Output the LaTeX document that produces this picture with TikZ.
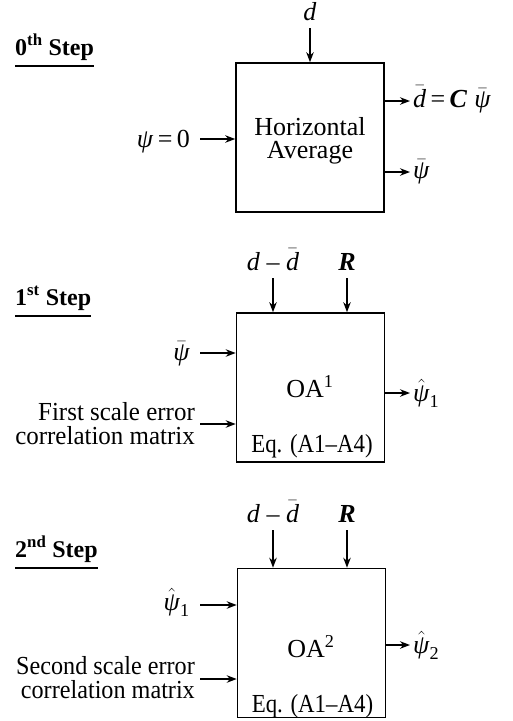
\documentclass[tikz,border=0pt]{standalone}
\usepackage{amsmath}
\usepackage{graphicx}
\usepackage{fontspec}
\setmainfont{Liberation Serif}[BoldFont={Liberation Serif Bold}, ItalicFont={Liberation Serif Italic}, BoldItalicFont={Liberation Serif Bold Italic}]
\usetikzlibrary{arrows.meta}
\newcommand\myd{\textit{d}}
\newcommand\mydbar{$\bar{\hbox{\textit{d}}}$}
\newcommand\mypsi{\textit{ψ}}
\newcommand\mypsibar{$\bar{\hbox{\textit{ψ}}}$}
\newcommand\mypsihat[1]{$\hat{\hbox{\textit{ψ}}}_{\text{#1}}$}
\newcommand\mybf[1]{\textbf{\textit{#1}}}
\newcommand\mynarrow[2]{\scalebox{#1}[1]{#2}}
\begin{document}
\begin{tikzpicture}[x=1pt,y=-1pt,
  every node/.style={inner sep=0pt},
  lbl/.style={font=\fontsize{26}{20.5}\selectfont},
  arr/.style={-{Stealth[length=10pt,width=7.5pt]}, line width=1.4pt},
  blk/.style={draw, line width=1.6pt, minimum width=148pt, minimum height=149pt},
  ttl/.style={font=\fontsize{24}{26}\selectfont\bfseries, anchor=base west},
  uline/.style={line width=1.6pt}]
\useasboundingbox (0,0) rectangle (512,721);

% ---------- 0th step ----------
\node[ttl] (t0) at (15,55) {0\textsuperscript{th} Step};
\draw[uline] ([yshift=-11pt]t0.base west) -- ([yshift=-11pt]t0.base east);
\node[blk] (b0) at (310,137.5) {};
\node[lbl, anchor=base] (h0) at (310,135) {\begin{tabular}[t]{@{}c@{}}Horizontal\\Average\end{tabular}};
\node[lbl, anchor=base] (d0) at (310,20) {\myd};
\draw[arr] ([yshift=-8pt]d0.base) -- (d0.base |- b0.north);
\node[lbl, anchor=base west] (o0a) at (413,107) {\mydbar\,=\,\mybf{C}\;\mypsibar};
\draw[arr] (b0.east |- 0,101) -- ([xshift=-3pt]o0a.west |- 0,101);
\node[lbl, anchor=base west] (o0b) at (413,178) {\mypsibar};
\draw[arr] (b0.east |- 0,172) -- ([xshift=-3pt]o0b.west |- 0,172);
\node[lbl, anchor=base east] (i0) at (190,147) {\mypsi\,=\,0};
\draw[arr] ([xshift=10pt]i0.east |- 0,139) -- (b0.west |- 0,139);

% ---------- 1st step ----------
\node[ttl] (t1) at (15,305) {1\textsuperscript{st} Step};
\draw[uline] ([yshift=-11pt]t1.base west) -- ([yshift=-11pt]t1.base east);
\node[blk] (b1) at (310.5,387.5) {};
\node[lbl, anchor=base] (m1) at (273,270) {\myd\ – \mydbar};
\node[lbl, anchor=base] (r1) at (347,270) {\mybf{R}};
\draw[arr] ([yshift=-8pt]m1.base) -- (m1.base |- b1.north);
\draw[arr] ([yshift=-8pt]r1.base) -- (r1.base |- b1.north);
\node[lbl, anchor=base east] (p1) at (190,360) {\mypsibar};
\draw[arr] ([xshift=10pt]p1.east |- 0,353) -- (b1.west |- 0,353);
\node[lbl, anchor=base east] (c1) at (195,420) {\mynarrow{0.96}{\begin{tabular}[t]{@{}r@{}}First scale error\\correlation matrix\end{tabular}}};
\draw[arr] ([xshift=5pt]c1.east |- 0,424) -- (b1.west |- 0,424);
\node[lbl, anchor=base] (n1) at (310,397) {OA\textsuperscript{1}};
\node[lbl, anchor=base] (e1) at (312,452) {\mynarrow{0.88}{Eq. (A1–A4)}};
\node[lbl, anchor=base west] (o1) at (413,401) {\mypsihat{1}};
\draw[arr] (b1.east |- 0,393) -- ([xshift=-3pt]o1.west |- 0,393);

% ---------- 2nd step ----------
\node[ttl] (t2) at (15,557) {2\textsuperscript{nd} Step};
\draw[uline] ([yshift=-11pt]t2.base west) -- ([yshift=-11pt]t2.base east);
\node[blk] (b2) at (311.5,643) {};
\node[lbl, anchor=base] (m2) at (273,522) {\myd\ – \mydbar};
\node[lbl, anchor=base] (r2) at (347,522) {\mybf{R}};
\draw[arr] ([yshift=-8pt]m2.base) -- (m2.base |- b2.north);
\draw[arr] ([yshift=-8pt]r2.base) -- (r2.base |- b2.north);
\node[lbl, anchor=base east] (p2) at (190,610) {\mypsihat{1}};
\draw[arr] ([xshift=10pt]p2.east |- 0,605) -- (b2.west |- 0,605);
\node[lbl, anchor=base east] (c2) at (195,674) {\mynarrow{0.93}{\begin{tabular}[t]{@{}r@{}}Second scale error\\correlation matrix\end{tabular}}};
\draw[arr] ([xshift=5pt]c2.east |- 0,679) -- (b2.west |- 0,679);
\node[lbl, anchor=base] (n2) at (311,657) {OA\textsuperscript{2}};
\node[lbl, anchor=base] (e2) at (312.5,712) {\mynarrow{0.88}{Eq. (A1–A4)}};
\node[lbl, anchor=base west] (o2) at (413,653) {\mypsihat{2}};
\draw[arr] (b2.east |- 0,645) -- ([xshift=-3pt]o2.west |- 0,645);
\end{tikzpicture}
\end{document}
